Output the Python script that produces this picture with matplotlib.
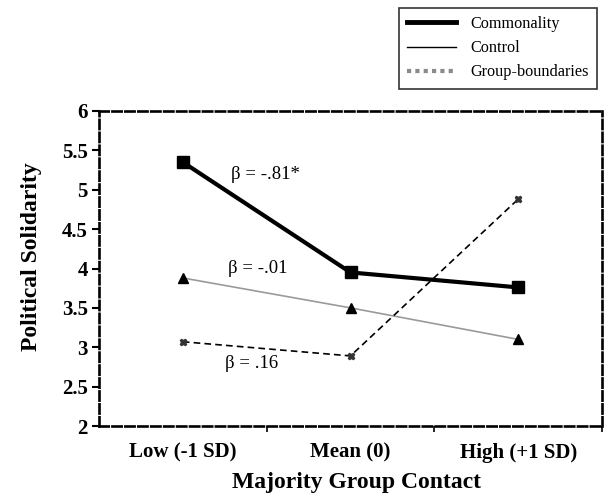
import matplotlib.pyplot as plt
from matplotlib.lines import Line2D

plt.rcParams['font.family'] = ['Liberation Serif', 'DejaVu Serif']

categories = ["Low (-1 SD)", "Mean (0)", "High (+1 SD)"]
commonality = [5.35, 3.95, 3.76]
control = [3.88, 3.50, 3.10]
group_boundaries = [3.07, 2.89, 4.88]
beta_labels = ["\u03b2 = -.81*", "\u03b2 = -.01", "\u03b2 = .16"]

fig = plt.figure(figsize=(6.15, 4.96), dpi=100)
ax = fig.add_axes([99 / 615, 70 / 496, 503 / 615, 315 / 496])

x = list(range(len(categories)))
ax.plot(x, control, color="#9a9a9a", lw=1.2, marker="^", ms=7, mfc="black", mec="black")
ax.plot(x, group_boundaries, color="black", lw=1.2, ls=(0, (4, 2.5)), marker="X", ms=5, mfc="#333333", mec="#333333")
ax.plot(x, commonality, color="black", lw=3, marker="s", ms=8)

ax.text(0.29, 5.19, beta_labels[0], fontsize=13.5, va="center")
ax.text(0.27, 4.0, beta_labels[1], fontsize=13.5, va="center")
ax.text(0.25, 2.80, beta_labels[2], fontsize=13.5, va="center")

ax.set_xlim(-0.5, 2.5)
ax.set_ylim(2, 6)
ax.set_yticks([2, 2.5, 3, 3.5, 4, 4.5, 5, 5.5, 6])
ax.set_yticklabels(["2", "2.5", "3", "3.5", "4", "4.5", "5", "5.5", "6"])
ax.set_xticks([0.5, 1.5, 2.5])
ax.set_xticklabels([])
ax.set_xticks(x, minor=True)
ax.set_xticklabels(categories, minor=True)
ax.tick_params(axis="x", which="minor", length=0, pad=12, labelsize=15)
ax.tick_params(axis="x", which="major", length=4, width=1.2, direction="out")
ax.tick_params(axis="y", length=5, width=1.5, direction="out", labelsize=15, pad=3)
for lab in ax.get_xticklabels(minor=True) + ax.get_yticklabels():
    lab.set_fontweight("bold")

for side in ["top", "right", "left", "bottom"]:
    ax.spines[side].set_linewidth(1.9)
    ax.spines[side].set_linestyle((0, (3.5, 1.4)))

ax.set_ylabel("Political Solidarity", fontsize=17, fontweight="bold")
ax.yaxis.set_label_coords(-0.113, 0.537)
ax.set_xlabel("Majority Group Contact", fontsize=17, fontweight="bold")
ax.xaxis.set_label_coords(0.511, -0.147)

handles = [
    Line2D([], [], color="black", lw=3.5),
    Line2D([], [], color="black", lw=1),
    Line2D([], [], color="#8a8a8a", lw=3, ls=(0, (1, 1))),
]
leg = fig.legend(handles, ["Commonality", "Control", "Group-boundaries"],
                 loc="upper right", bbox_to_anchor=(597 / 615, 1 - 8 / 496),
                 borderaxespad=0, fontsize=11.7, frameon=True, fancybox=False,
                 edgecolor="black", handlelength=3.0, borderpad=0.5,
                 labelspacing=0.5, handletextpad=0.9)
leg.get_frame().set_linewidth(1.2)

fig.savefig("out.png", dpi=100)
